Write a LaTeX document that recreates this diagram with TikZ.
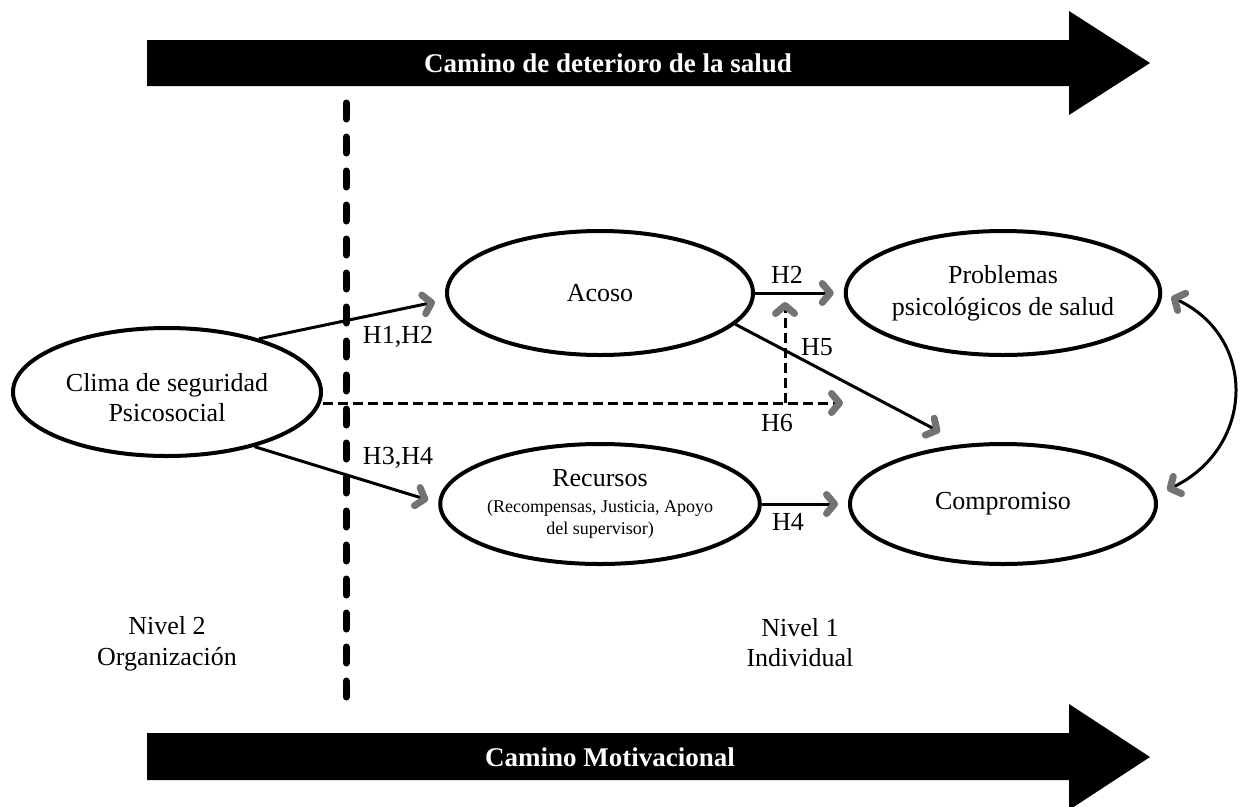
\documentclass[tikz,border=0pt]{standalone}
\usepackage{fontspec}
\setmainfont{Liberation Serif}
\usetikzlibrary{arrows.meta,shapes.geometric,calc}

\newcommand{\subline}{\fontsize{18}{22}\selectfont}

\begin{document}
\begin{tikzpicture}[x=1pt,y=-1pt,
  >={Straight Barb[length=8pt,width=19pt,line width=7pt,round,color=black!55]},
  ell/.style={ellipse, draw, line width=4pt, inner sep=0pt, align=center,
    font=\fontsize{26}{30}\selectfont},
  lbl/.style={font=\fontsize{26}{30}\selectfont, inner sep=0pt},
  link/.style={->, line width=3pt},
  dlink/.style={link, dash pattern=on 10pt off 5pt},
  band/.style={fill=black},
  bandtext/.style={text=white, font=\bfseries\fontsize{27}{32}\selectfont, inner sep=0pt},
]
\useasboundingbox (0,0) rectangle (1241,806);

% path bands
\fill[band] (147,40) -- (1069,40) -- (1069,11) -- (1150,63) -- (1069,115) -- (1069,86) -- (147,86) -- cycle;
\node[bandtext] (health) at (608,63) {Camino de deterioro de la salud};
\fill[band] (147,733) -- (1069,733) -- (1069,704) -- (1150,757) -- (1069,810) -- (1069,780) -- (147,780) -- cycle;
\node[bandtext] (motiv) at (610,757) {Camino Motivacional};

% level divider
\draw[line width=7pt, line cap=round, dash pattern=on 16pt off 18pt] (346,103) -- (346,700);

% constructs
\node[ell, minimum width=308pt, minimum height=128pt] (clima) at (167,392)
  {\raisebox{-8pt}[\height][\depth]{\begin{tabular}{@{}c@{}}Clima de seguridad\\Psicosocial\end{tabular}}};
\node[ell, minimum width=306pt, minimum height=124pt] (acoso) at (600,293) {Acoso};
\node[ell, minimum width=306pt, minimum height=124pt] (probl) at (1003,293)
  {Problemas\\[2pt]psicológicos de salud};
\node[ell, minimum width=306pt, minimum height=120pt] (recur) at (600,504)
  {Recursos\\[-4pt]\subline (Recompensas, Justicia, Apoyo\\[-8pt]\subline del supervisor)};
\node[ell, minimum width=306pt, minimum height=120pt] (compr) at (1003,504) {Compromiso};

% paths between constructs
\coordinate (hend) at (843,403);
\coordinate (hmid) at (785,403);
\coordinate (hup) at (785,302);
\draw[link] (clima.30) -- ($(acoso.west)+(-10,9)$);
\draw[link] (clima.-32) -- ($(recur.west)+(-10,-4)$);
\draw[dlink] (clima.east |- hend) -- (hend);
\draw[dlink] (hmid) -- (hup);
\draw[link] (acoso.east) -- ($(probl.west)+(-10,0)$);
\draw[link] (acoso.-13) -- ($(compr.center)+(-63,-72)$);
\draw[link] (recur.east) -- ($(compr.west)+(-10,0)$);
\draw[<->, line width=3pt] ($(probl.east)+(9,4)$)
  .. controls ($(probl.east)+(96,45)$) and ($(compr.east)+(96,-56)$) .. ($(compr.east)+(9,-14)$);

% hypothesis labels
\node[lbl] (lh12) at (398,337) {H1,H2};
\node[lbl] (lh34) at (398,458) {H3,H4};
\node[lbl] (lh2) at (787,275) {H2};
\node[lbl] (lh5) at (817,347) {H5};
\node[lbl] (lh6) at (777,423) {H6};
\node[lbl] (lh4) at (788,522) {H4};

% level labels
\node[lbl, align=center] (lvl2) at (167,644) {Nivel 2\\[1pt]Organización};
\node[lbl, align=center] (lvl1) at (800,643) {Nivel 1\\Individual};
\end{tikzpicture}
\end{document}
